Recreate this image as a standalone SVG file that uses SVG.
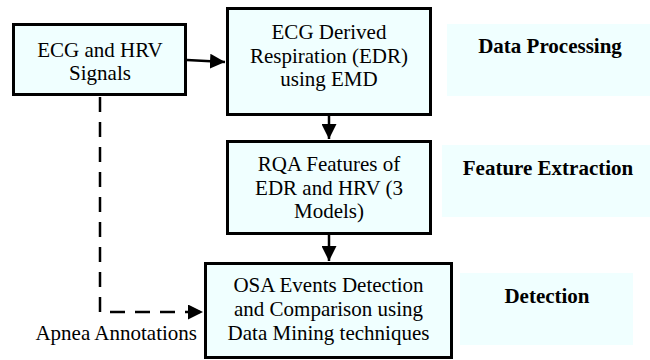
<svg xmlns="http://www.w3.org/2000/svg" width="650" height="360" viewBox="0 0 650 360" font-family="Liberation Serif, Times New Roman, serif">
<defs>
<marker id="ah" viewBox="0 0 10 10" refX="10" refY="5" markerWidth="15" markerHeight="15" markerUnits="userSpaceOnUse" orient="auto">
<path d="M0,0 L10,5 L0,10 Z" fill="#000"/>
</marker>
</defs>
<g id="labels" font-size="21" font-weight="bold" text-anchor="middle" fill="#000">
<g id="lab-data-processing"><rect fill="#f0ffff" x="447" y="24" width="203" height="72"/><text x="550" y="53" style="font-family:'Liberation Serif',serif">Data Processing</text></g>
<g id="lab-feature-extraction"><rect fill="#f0ffff" x="442" y="145" width="208" height="72"/><text x="548" y="175" style="font-family:'Liberation Serif',serif">Feature Extraction</text></g>
<g id="lab-detection"><rect fill="#f0ffff" x="460" y="273" width="173" height="72"/><text x="547" y="303" style="font-family:'Liberation Serif',serif">Detection</text></g>
</g>
<g id="connectors" fill="none" stroke="#000" stroke-width="2.5">
<line x1="187" y1="60" x2="225" y2="62" marker-end="url(#ah)"/>
<line x1="329" y1="116" x2="329" y2="139" marker-end="url(#ah)"/>
<line x1="329" y1="235" x2="329" y2="261" marker-end="url(#ah)"/>
<polyline points="100,97 100,312 203,312" stroke-dasharray="15 10" marker-end="url(#ah)"/>
</g>
<g id="nodes" font-size="21" text-anchor="middle" fill="#000">
<g id="n1"><rect fill="#f0ffff" stroke="#000" stroke-width="3" x="13.5" y="24.5" width="172" height="70"/><text x="100" y="57" style="font-family:'Liberation Serif',serif">ECG and HRV</text><text x="100" y="80" style="font-family:'Liberation Serif',serif">Signals</text></g>
<g id="n2"><rect fill="#f0ffff" stroke="#000" stroke-width="3" x="227.5" y="8.5" width="203" height="106"/><text x="329" y="39" style="font-family:'Liberation Serif',serif">ECG Derived</text><text x="329" y="63" style="font-family:'Liberation Serif',serif">Respiration (EDR)</text><text x="329" y="86" style="font-family:'Liberation Serif',serif">using EMD</text></g>
<g id="n3"><rect fill="#f0ffff" stroke="#000" stroke-width="3" x="227.5" y="141.5" width="203" height="92"/><text x="329" y="171" style="font-family:'Liberation Serif',serif">RQA Features of</text><text x="329" y="195" style="font-family:'Liberation Serif',serif">EDR and HRV (3</text><text x="329" y="218" style="font-family:'Liberation Serif',serif">Models)</text></g>
<g id="n4"><rect fill="#f0ffff" stroke="#000" stroke-width="3" x="205.5" y="263.5" width="246" height="94"/><text x="328.5" y="292" style="font-family:'Liberation Serif',serif">OSA Events Detection</text><text x="328.5" y="316" style="font-family:'Liberation Serif',serif">and Comparison using</text><text x="328.5" y="340" style="font-family:'Liberation Serif',serif">Data Mining techniques</text></g>
<text x="197" y="340" text-anchor="end" style="font-family:'Liberation Serif',serif">Apnea Annotations</text>
</g>
</svg>
